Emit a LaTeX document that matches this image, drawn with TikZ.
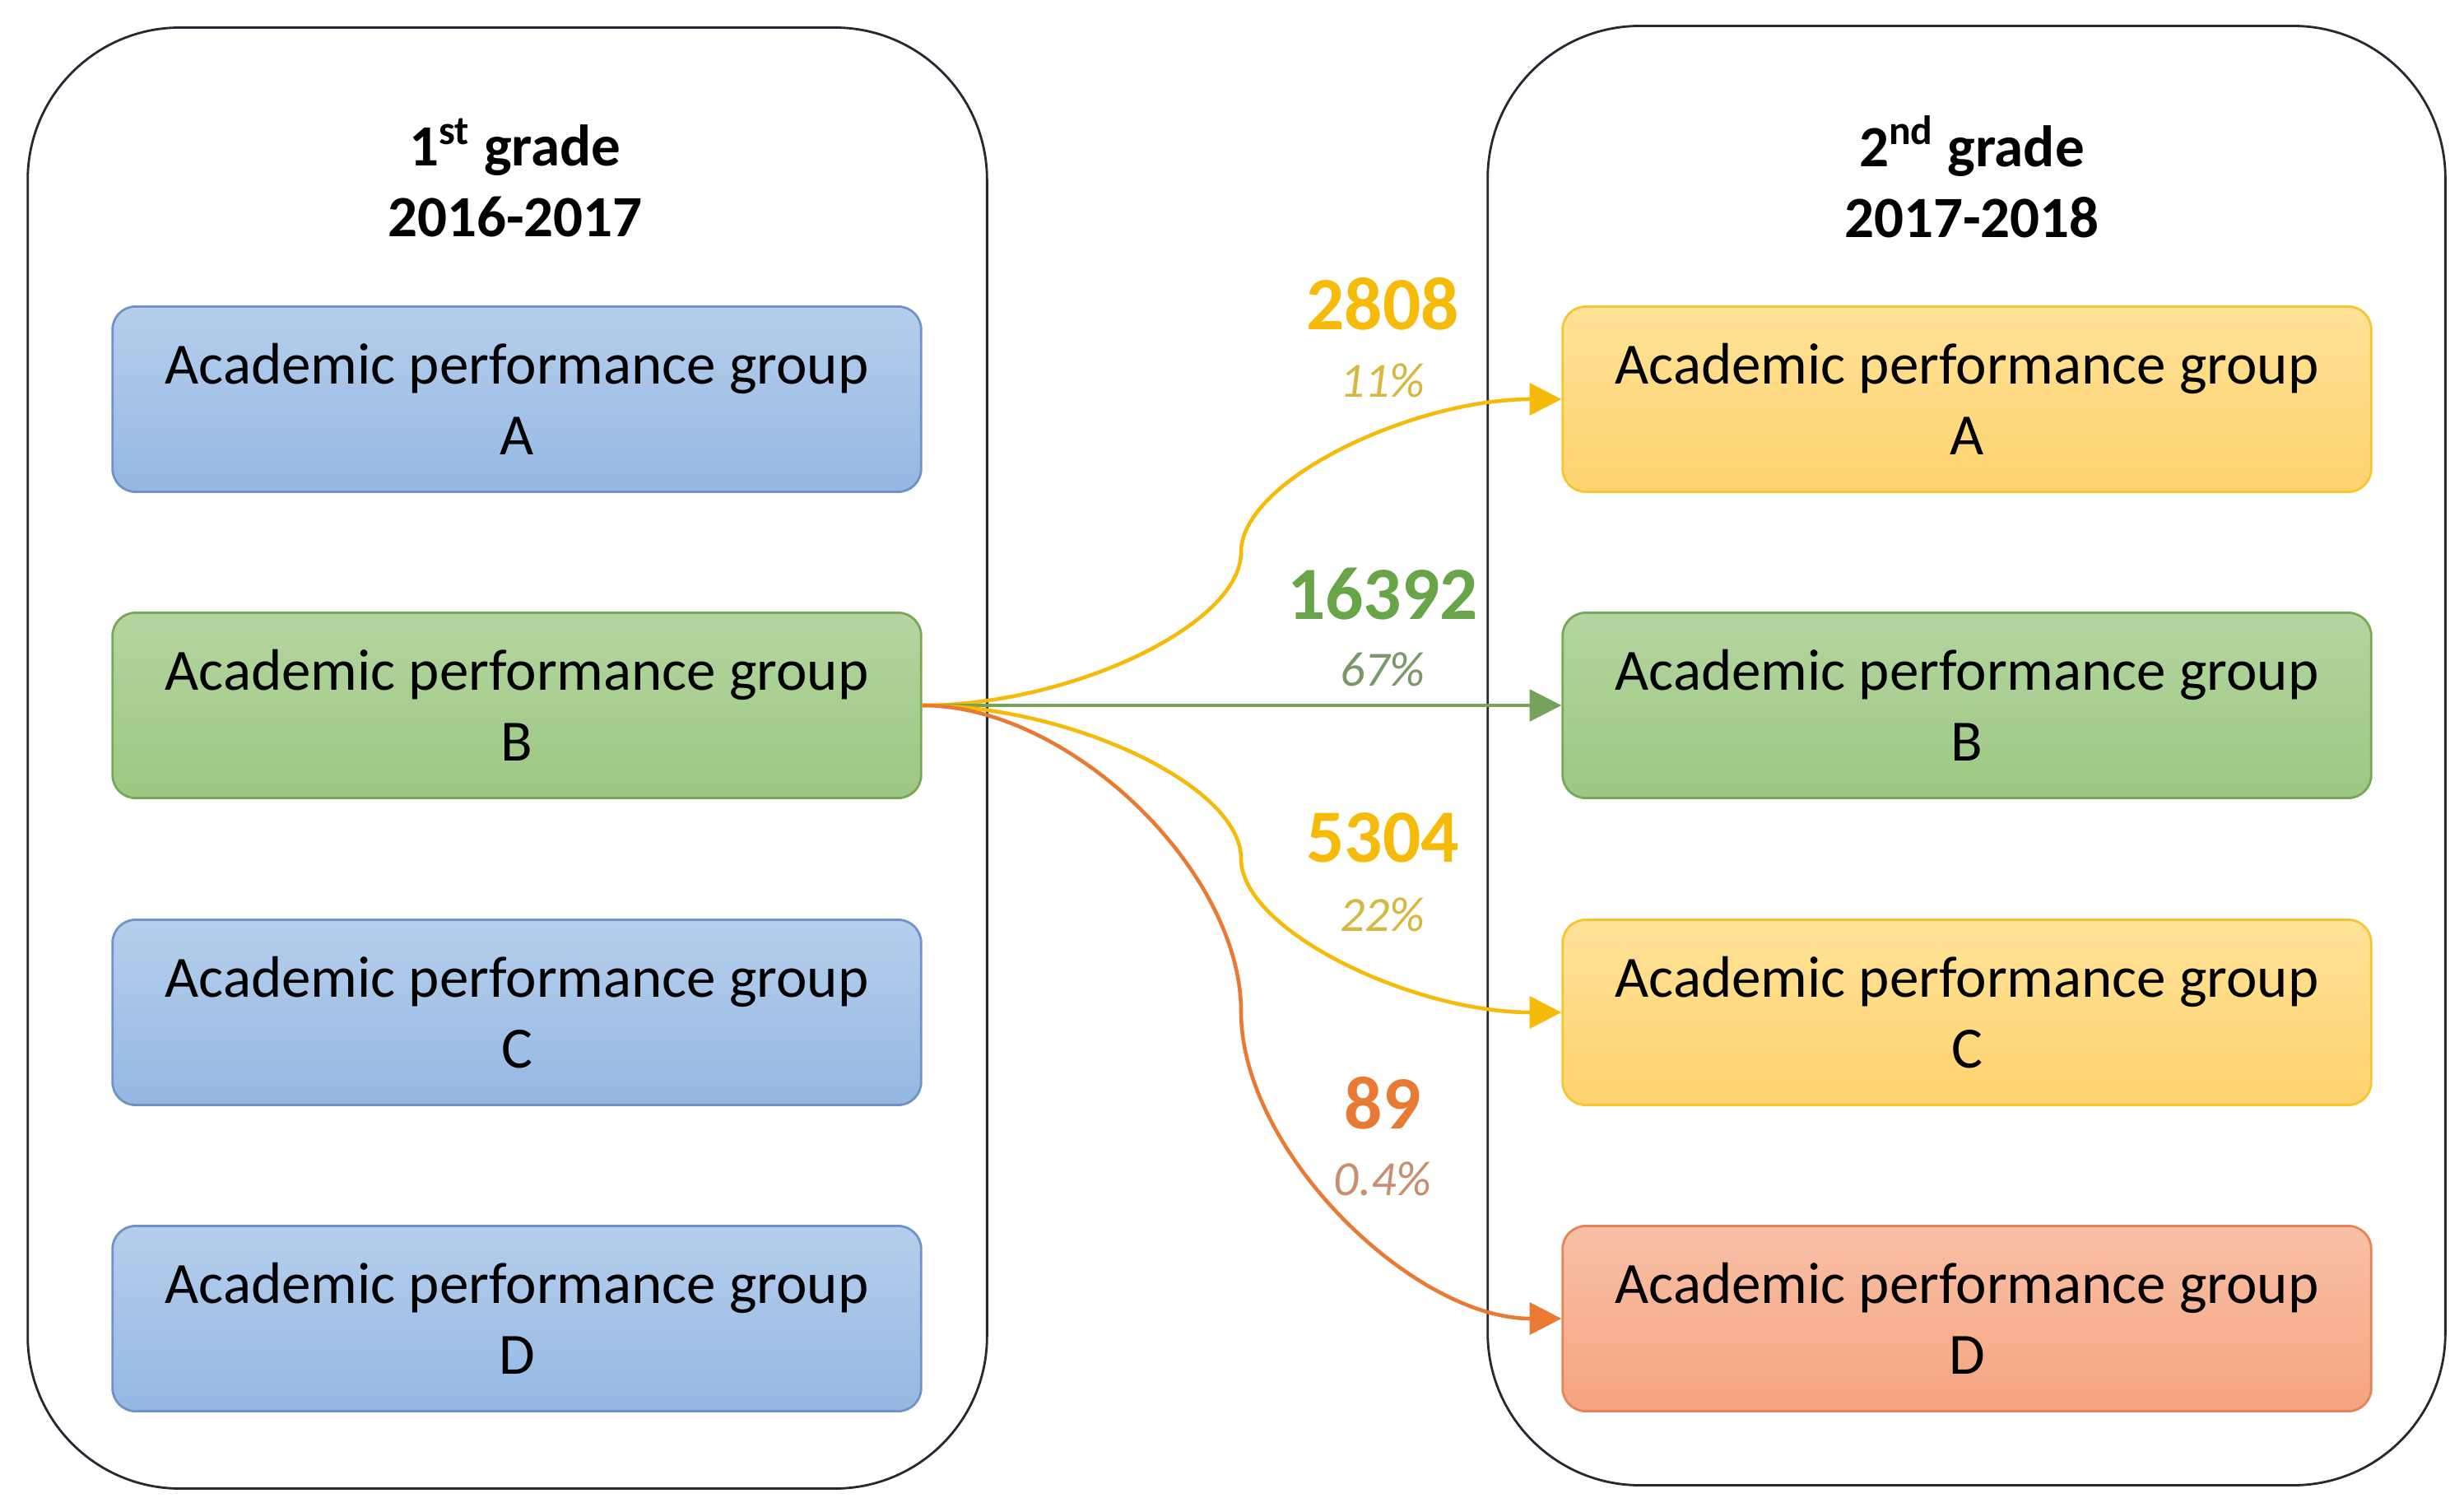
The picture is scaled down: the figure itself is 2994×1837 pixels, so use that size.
\documentclass[tikz,border=0pt]{standalone}
\usepackage{fontspec}
\setmainfont{Carlito}
\usetikzlibrary{arrows.meta}
\definecolor{contline}{RGB}{38,40,50}
\definecolor{bluetop}{RGB}{182,206,236}
\definecolor{bluebot}{RGB}{148,184,227}
\definecolor{blueline}{RGB}{112,146,196}
\definecolor{greentop}{RGB}{180,213,160}
\definecolor{greenbot}{RGB}{156,200,130}
\definecolor{greenline}{RGB}{118,168,88}
\definecolor{yellowtop}{RGB}{255,226,152}
\definecolor{yellowbot}{RGB}{255,210,110}
\definecolor{yellowline}{RGB}{246,198,50}
\definecolor{orangetop}{RGB}{249,192,166}
\definecolor{orangebot}{RGB}{245,164,128}
\definecolor{orangeline}{RGB}{228,132,88}
\definecolor{gold}{RGB}{246,186,8}
\definecolor{goldpct}{RGB}{214,184,64}
\definecolor{grn}{RGB}{104,164,72}
\definecolor{grnpct}{RGB}{122,152,104}
\definecolor{grnflow}{RGB}{118,162,92}
\definecolor{orng}{RGB}{232,122,52}
\definecolor{orngpct}{RGB}{200,142,112}
\tikzset{
  container/.style={draw=contline, line width=0.8pt, rounded corners=1.85cm, inner sep=0pt},
  grpbox/.style={rounded corners=0.28cm, minimum width=9.82cm, minimum height=2.25cm, align=center,
    font=\fontsize{20.2}{24.5}\selectfont, line width=0.8pt, inner sep=0pt},
  bluebox/.style={grpbox, draw=blueline, top color=bluetop, bottom color=bluebot},
  greenbox/.style={grpbox, draw=greenline, top color=greentop, bottom color=greenbot},
  yellowbox/.style={grpbox, draw=yellowline, top color=yellowtop, bottom color=yellowbot},
  orangebox/.style={grpbox, draw=orangeline, top color=orangetop, bottom color=orangebot},
  gradetitle/.style={align=center, font=\bfseries\fontsize{20.2}{24.5}\selectfont},
  num/.style={font=\bfseries\fontsize{26}{30}\selectfont},
  pct/.style={font=\itshape\fontsize{17}{20}\selectfont},
  flow/.style={line width=1.3pt, -{Triangle[length=11pt,width=11pt]}}
}
\begin{document}
\begin{tikzpicture}[x=0.01cm,y=-0.01cm]
\useasboundingbox (0,0) rectangle (2994,1837);
% containers
\node[container, minimum width=11.65cm, minimum height=17.74cm] (left) at (616.5,921) {};
\node[container, minimum width=11.63cm, minimum height=17.72cm] (right) at (2389.5,918) {};
% titles
\node[gradetitle] (t1) at (626,216) {1\textsuperscript{st} grade\\2016-2017};
\node[gradetitle] (t2) at (2396,215) {2\textsuperscript{nd} grade\\2017-2018};
% left boxes
\node[bluebox]  (lA) at (628,485)  {Academic performance group\\A};
\node[greenbox] (lB) at (628,857)  {Academic performance group\\B};
\node[bluebox]  (lC) at (628,1230) {Academic performance group\\C};
\node[bluebox]  (lD) at (628,1602) {Academic performance group\\D};
% right boxes
\node[yellowbox] (rA) at (2390,485)  {Academic performance group\\A};
\node[greenbox]  (rB) at (2390,857)  {Academic performance group\\B};
\node[yellowbox] (rC) at (2390,1230) {Academic performance group\\C};
\node[orangebox] (rD) at (2390,1602) {Academic performance group\\D};
% flow midpoints
\coordinate (mA) at (1508,671);
\coordinate (mC) at (1508,1043);
\coordinate (mD) at (1508,1229);
% flows
\draw[flow, draw=gold] (lB.east) .. controls +(180,0) and +(0,88) .. (mA)
      .. controls +(0,-88) and +(-180,0) .. (rA.west);
\draw[flow, draw=grnflow, line width=0.9pt] (lB.east) -- (rB.west);
\draw[flow, draw=gold] (lB.east) .. controls +(180,0) and +(0,-88) .. (mC)
      .. controls +(0,88) and +(-180,0) .. (rC.west);
\draw[flow, draw=orng] (lB.east) .. controls +(180,0) and +(0,-170) .. (mD)
      .. controls +(0,170) and +(-180,0) .. (rD.west);
% labels
\node[num, text=gold] (n1) at (1680,369) {2808};
\node[pct, text=goldpct] (p1) at (1680,462) {11\%};
\node[num, text=grn] (n2) at (1680,722) {16392};
\node[pct, text=grnpct] (p2) at (1680,813) {67\%};
\node[num, text=gold] (n3) at (1680,1018) {5304};
\node[pct, text=goldpct] (p3) at (1680,1111) {22\%};
\node[num, text=orng] (n4) at (1680,1340) {89};
\node[pct, text=orngpct] (p4) at (1680,1432) {0.4\%};
\end{tikzpicture}
\end{document}
